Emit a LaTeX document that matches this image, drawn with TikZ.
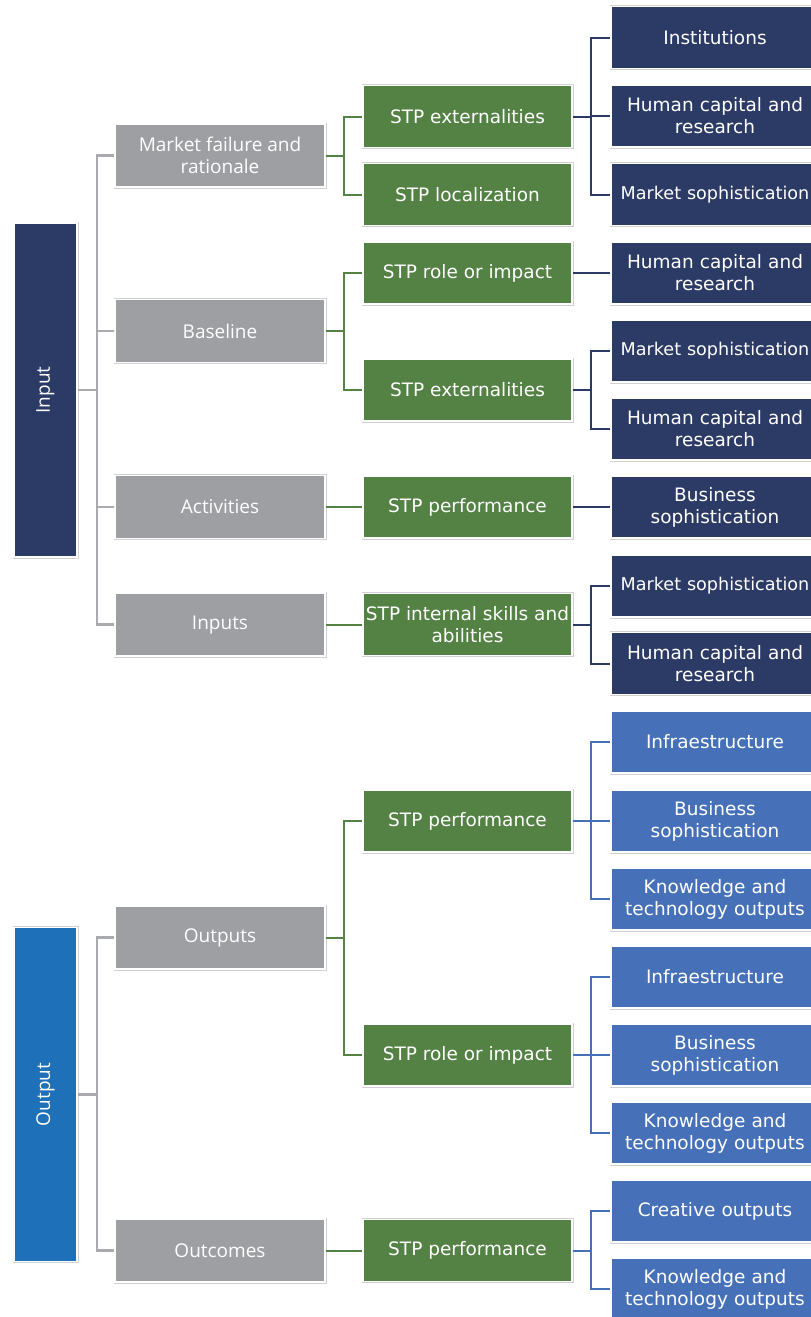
\documentclass[tikz,border=0pt]{standalone}
\usepackage{fontspec}
\setmainfont{DejaVu Sans}
\newfontfamily\segoe{Open Sans}
\definecolor{navy}{HTML}{2C3A66}
\definecolor{midblue}{HTML}{1E70B8}
\definecolor{lblue}{HTML}{4671B8}
\definecolor{grbox}{HTML}{9D9FA3}
\definecolor{grline}{HTML}{A8AAAD}
\definecolor{green}{HTML}{548144}
\tikzset{
  box/.style={rectangle, inner sep=0pt, text=white, align=center,
    draw=white, line width=1.4pt,
    preaction={draw=black!18, line width=3pt}},
  lvzero/.style={box, minimum width=63pt, minimum height=334pt,
    font=\segoe\fontsize{19}{22}\selectfont},
  lvone/.style={box, fill=grbox, minimum width=210pt, minimum height=63pt,
    font=\segoe\fontsize{19}{22}\selectfont},
  lvtwo/.style={box, fill=green, minimum width=209pt, minimum height=62pt,
    font=\fontsize{18.5}{22}\selectfont},
  lvthree/.style={box, minimum width=208pt, minimum height=62pt, text width=206pt,
    font=\fontsize{18.5}{22}\selectfont},
  dk/.style={lvthree, fill=navy},
  lt/.style={lvthree, fill=lblue},
  narrowtxt/.style={font=\fontsize{17.6}{22}\selectfont},
  gl/.style={draw=grline, line width=2.4pt},
  gnl/.style={draw=green, line width=2pt},
  nvl/.style={draw=navy, line width=2pt},
  lbl/.style={draw=lblue, line width=2pt},
}
\begin{document}
\begin{tikzpicture}[x=1pt,y=-1pt]
\useasboundingbox[fill=white] (0,0) rectangle (811,1317);
\begin{scope}
\clip (0,0) rectangle (811,1317);
% level 0
\node[lvzero, fill=navy] (input) at (45.5,390) {\rotatebox{90}{Input}};
\node[lvzero, fill=midblue] (output) at (45.5,1094.5) {\rotatebox{90}{Output}};
% level 1
\node[lvone] (mf) at (220,155.5) {Market failure and\\rationale};
\node[lvone] (base) at (220,331) {Baseline};
\node[lvone] (act) at (220,507) {Activities};
\node[lvone] (inp) at (220,624.5) {Inputs};
\node[lvone] (outs) at (220,937.5) {Outputs};
\node[lvone] (outc) at (220,1250.5) {Outcomes};
% level 2
\node[lvtwo] (ext1) at (467.5,116.5) {STP externalities};
\node[lvtwo] (loc) at (467.5,194.5) {STP localization};
\node[lvtwo] (role1) at (467.5,273) {STP role or impact};
\node[lvtwo] (ext2) at (467.5,390) {STP externalities};
\node[lvtwo] (perf1) at (467.5,507) {STP performance};
\node[lvtwo] (intl) at (467.5,624.5) {STP internal skills and\\abilities};
\node[lvtwo] (perf2) at (467.5,821) {STP performance};
\node[lvtwo] (role2) at (467.5,1055) {STP role or impact};
\node[lvtwo] (perf3) at (467.5,1250.5) {STP performance};
% level 3
\node[dk] (c1) at (715,37.5) {Institutions};
\node[dk] (c2) at (715,116) {Human capital and\\research};
\node[dk, narrowtxt] (c3) at (715,194.5) {Market sophistication};
\node[dk] (c4) at (715,273) {Human capital and\\research};
\node[dk, narrowtxt] (c5) at (715,351) {Market sophistication};
\node[dk] (c6) at (715,429) {Human capital and\\research};
\node[dk] (c7) at (715,507) {Business\\sophistication};
\node[dk, narrowtxt] (c8) at (715,586) {Market sophistication};
\node[dk] (c9) at (715,663.5) {Human capital and\\research};
\node[lt] (d1) at (715,742) {Infraestructure};
\node[lt] (d2) at (715,821) {Business\\sophistication};
\node[lt] (d3) at (715,899) {Knowledge and\\technology outputs};
\node[lt] (d4) at (715,977) {Infraestructure};
\node[lt] (d5) at (715,1055) {Business\\sophistication};
\node[lt] (d6) at (715,1133) {Knowledge and\\technology outputs};
\node[lt] (d7) at (715,1211) {Creative outputs};
\node[lt] (d8) at (715,1289) {Knowledge and\\technology outputs};
\end{scope}
% branch points
\coordinate (bi) at (97,390);
\coordinate (bo) at (97,1094.5);
\coordinate (bmf) at (344,155.5);
\coordinate (bbase) at (344,331);
\coordinate (bouts) at (344,937.5);
\coordinate (bext1) at (591,116.5);
\coordinate (bext2) at (591,390);
\coordinate (bintl) at (591,624.5);
\coordinate (bperf2) at (591,821);
\coordinate (brole2) at (591,1055);
\coordinate (bperf3) at (591,1250.5);
% level 0 -> 1
\draw[gl] (input.east) -- (bi);
\foreach \n in {mf,base,act,inp} \draw[gl] (bi) |- (\n.west);
\draw[gl] (output.east) -- (bo);
\foreach \n in {outs,outc} \draw[gl] (bo) |- (\n.west);
% level 1 -> 2
\draw[gnl] (mf.east) -- (bmf);
\foreach \n in {ext1,loc} \draw[gnl] (bmf) |- (\n.west);
\draw[gnl] (base.east) -- (bbase);
\foreach \n in {role1,ext2} \draw[gnl] (bbase) |- (\n.west);
\draw[gnl] (act.east) -- (perf1.west);
\draw[gnl] (inp.east) -- (intl.west);
\draw[gnl] (outs.east) -- (bouts);
\foreach \n in {perf2,role2} \draw[gnl] (bouts) |- (\n.west);
\draw[gnl] (outc.east) -- (perf3.west);
% level 2 -> 3
\draw[nvl] (ext1.east) -- (bext1);
\foreach \n in {c1,c2,c3} \draw[nvl] (bext1) |- (\n.west);
\draw[nvl] (role1.east) -- (c4.west);
\draw[nvl] (ext2.east) -- (bext2);
\foreach \n in {c5,c6} \draw[nvl] (bext2) |- (\n.west);
\draw[nvl] (perf1.east) -- (c7.west);
\draw[nvl] (intl.east) -- (bintl);
\foreach \n in {c8,c9} \draw[nvl] (bintl) |- (\n.west);
\draw[lbl] (perf2.east) -- (bperf2);
\foreach \n in {d1,d2,d3} \draw[lbl] (bperf2) |- (\n.west);
\draw[lbl] (role2.east) -- (brole2);
\foreach \n in {d4,d5,d6} \draw[lbl] (brole2) |- (\n.west);
\draw[lbl] (perf3.east) -- (bperf3);
\foreach \n in {d7,d8} \draw[lbl] (bperf3) |- (\n.west);
\end{tikzpicture}
\end{document}
